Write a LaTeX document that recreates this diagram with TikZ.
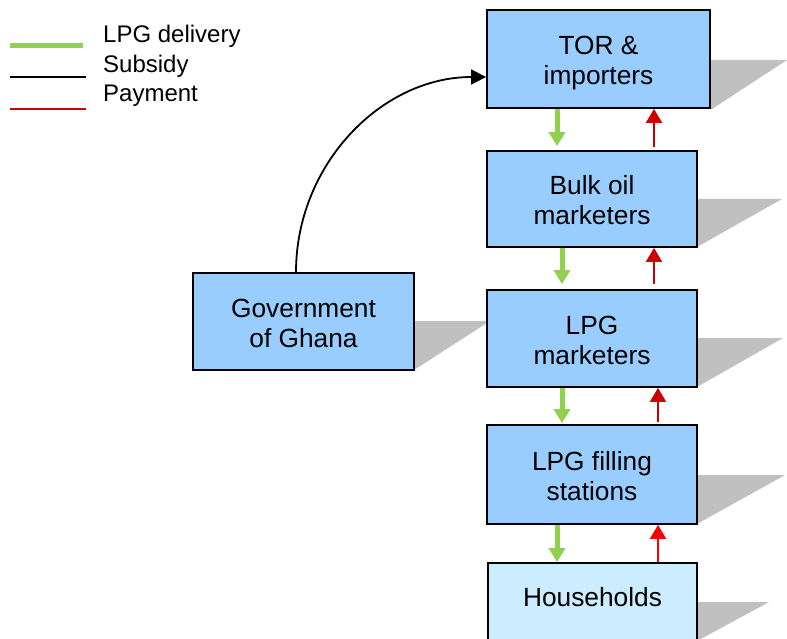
\documentclass[tikz,border=0pt]{standalone}
\usepackage{fontspec}
\setmainfont{Liberation Sans}
\usetikzlibrary{arrows.meta}
\definecolor{boxblue}{RGB}{153,204,255}
\definecolor{boxlight}{RGB}{204,236,255}
\definecolor{shadowgray}{RGB}{192,192,192}
\definecolor{delivgreen}{RGB}{146,208,80}
\definecolor{paydark}{RGB}{204,0,0}
\definecolor{paybright}{RGB}{255,0,0}
\newcommand{\twolines}[2]{\raisebox{-5pt}[\height][\depth]{\begin{tabular}{@{}c@{}}#1\\#2\end{tabular}}}
\tikzset{
  boxnode/.style={draw=black, line width=1.8pt, fill=boxblue, align=center,
    inner sep=0pt, font=\fontsize{26.3}{30}\selectfont},
  greenarr/.style={draw=delivgreen, line width=5pt,
    -{Triangle[width=16pt,length=14pt]}},
  redarr/.style={line width=2pt, -{Triangle[width=16pt,length=14pt]}},
  subsidyarr/.style={draw=black, line width=1.8pt,
    -{Triangle[width=15pt,length=15pt]}},
  legendtext/.style={anchor=base west, inner sep=0pt,
    font=\fontsize{24}{28}\selectfont},
}
\begin{document}
\begin{tikzpicture}[x=1pt,y=-1pt]
\useasboundingbox (0,0) rectangle (787,639);
\clip (0,0) rectangle (787,639);
\fill[white] (0,0) rectangle (787,639);

% shadows
\fill[shadowgray] (710,60) -- (787,60) -- (712,109) -- (710,109) -- cycle;
\fill[shadowgray] (697,199) -- (782,199) -- (697,247) -- cycle;
\fill[shadowgray] (697,338) -- (783,338) -- (697,387) -- cycle;
\fill[shadowgray] (697,475) -- (785,475) -- (697,524) -- cycle;
\fill[shadowgray] (697,602) -- (769,602) -- (697,641) -- cycle;
\fill[shadowgray] (414,321) -- (490,321) -- (414,370) -- cycle;

% boxes
\node[boxnode, minimum width=223pt, minimum height=98pt] (tor) at (598.5,59) {\twolines{TOR \&}{importers}};
\node[boxnode, minimum width=210pt, minimum height=96pt] (bulk) at (592,199) {\twolines{Bulk oil}{marketers}};
\node[boxnode, minimum width=210pt, minimum height=97pt] (lpgm) at (592,338.5) {\twolines{LPG}{marketers}};
\node[boxnode, minimum width=210pt, minimum height=99pt] (fill) at (592,474.5) {\twolines{LPG filling}{stations}};
\node[boxnode, fill=boxlight, minimum width=209pt, minimum height=78pt] (house) at (592.5,602) {\raisebox{5pt}[\height][\depth]{Households}};
\node[boxnode, minimum width=221pt, minimum height=97pt] (gov) at (303.5,321.5) {\twolines{Government}{of Ghana}};

% x positions for flows
\coordinate (gA) at (557,0);
\coordinate (gB) at (562,0);
\coordinate (gC) at (557,0);
\coordinate (rA) at (654,0);
\coordinate (rB) at (658,0);

% delivery (green)
\draw[greenarr, shorten >=4pt] (gA |- tor.south) -- (gA |- bulk.north);
\draw[greenarr, shorten >=5pt] (gB |- bulk.south) -- (gB |- lpgm.north);
\draw[greenarr, shorten >=1pt] (gB |- lpgm.south) -- (gB |- fill.north);
\draw[greenarr] (gC |- fill.south) -- (gC |- house.north);

% payment (red)
\draw[redarr, draw=paydark, fill=paydark, shorten <=3pt] (rA |- bulk.north) -- (rA |- tor.south);
\draw[redarr, draw=paydark, fill=paydark, shorten <=5pt] (rA |- lpgm.north) -- (rA |- bulk.south);
\draw[redarr, draw=paydark, fill=paydark, shorten <=2pt] (rB |- fill.north) -- (rB |- lpgm.south);
\draw[redarr, draw=paybright, fill=paybright] (rB |- house.north) -- (rB |- fill.south);

% subsidy
\coordinate (sx) at (296,0);
\coordinate (sy) at (0,77);
\draw[subsidyarr] (sx |- gov.north) .. controls (296,165) and (381,77) .. (tor.west |- sy);

% legend
\coordinate (l1a) at (10,46);  \coordinate (l1b) at (83,46);
\coordinate (l2a) at (10,77);  \coordinate (l2b) at (86,77);
\coordinate (l3a) at (10,109); \coordinate (l3b) at (86,109);
\draw[delivgreen, line width=5pt] (l1a) -- (l1b);
\draw[black, line width=1.8pt] (l2a) -- (l2b);
\draw[paydark, line width=1.8pt] (l3a) -- (l3b);
\node[legendtext] (t1) at (103,43) {LPG delivery};
\node[legendtext] (t2) at (103,73) {Subsidy};
\node[legendtext] (t3) at (103,102) {Payment};
\end{tikzpicture}
\end{document}
